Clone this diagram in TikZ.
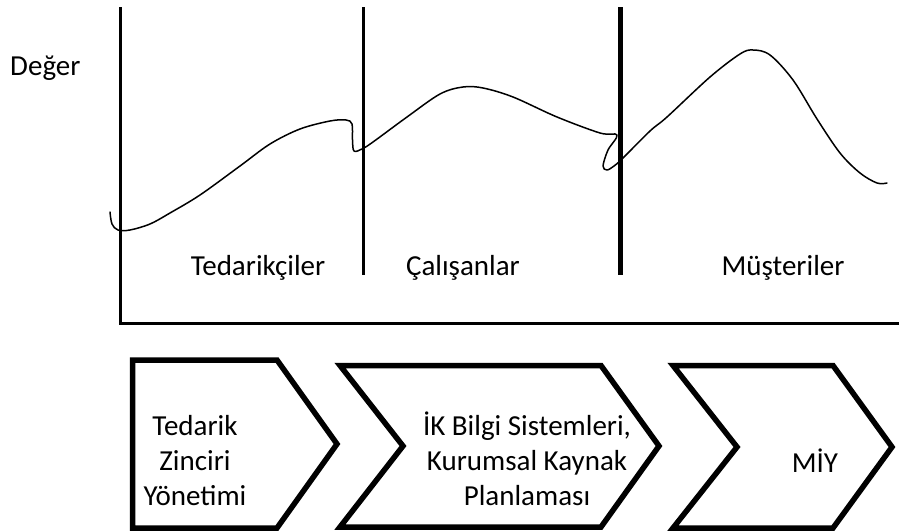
\documentclass[tikz,border=0pt]{standalone}
\usepackage{fontspec}
\setmainfont{Carlito}
\usepackage{tikz}
\usetikzlibrary{positioning}

\begin{document}
\begin{tikzpicture}[
    x=1pt, y=-1pt,
    font=\fontsize{29}{35}\selectfont,
    eksen/.style={line width=3pt},
    sinir/.style={line width=3pt},
    kalinsinir/.style={line width=5.5pt},
    egri/.style={line width=1.5pt, line join=round, line cap=round},
    sevron/.style={line width=5.5pt, line join=miter},
    etiket/.style={anchor=base},
    kutuyazi/.style={align=center, inner sep=0pt}
  ]
    \useasboundingbox (0,0) rectangle (899,530);
    % eksenler ve bolme cizgileri
    \draw[eksen] (120,7) -- (120,323) -- (899,323);
    \draw[sinir] (363.5,7) -- (363.5,275);
    \draw[kalinsinir] (620.5,7) -- (620.5,275);
    \node[anchor=base east] (deger) at (84,75) {Değer};
    \node[etiket] (tedarikciler) at (258,275) {Tedarikçiler};
    \node[etiket] (calisanlar) at (463,275) {Çalışanlar};
    \node[etiket] (musteriler) at (783,275) {Müşteriler};
    % deger egrisi
    \draw[egri] plot[smooth, tension=0.55] coordinates {
      (110,212) (112,224) (118,230) (130,230) (150,224) (170,213) (200,195)
      (240,166) (270,144) (300,129) (330,121) (346,120) (352,124)
      (352.5,140) (354,151) (362,149) (373,142) (407,117) (440,94)
      (463,87) (483,88) (513,97) (557,117) (600,133) (617,135)
      (608,150) (603,166) (607,170) (614,166) (622,159) (650,131)
      (667,117) (710,77) (740,54) (753,50) (770,55) (793,80) (817,119)
      (840,153) (860,173) (877,183) (887,183)};
    % zincir kutulari
    \draw[sevron] (132.5,360) -- (277,360) -- (337,444) -- (277,528)
      -- (132.5,528) -- cycle;
    \draw[sevron] (340,365.5) -- (601,365.5) -- (659,446) -- (601,527)
      -- (340,527) -- (403,446) -- cycle;
    \draw[sevron] (673,365.5) -- (833,365.5) -- (892,447) -- (833,528)
      -- (673,528) -- (737,447) -- cycle;
    \node[kutuyazi] (tzy) at (195,461) {Tedarik\\Zinciri\\Yönetimi};
    \node[kutuyazi] (ikbs) at (527,459) {İK Bilgi Sistemleri,\\Kurumsal Kaynak\\Planlaması};
    \node[etiket] (miy) at (815,472) {MİY};
\end{tikzpicture}
\end{document}
